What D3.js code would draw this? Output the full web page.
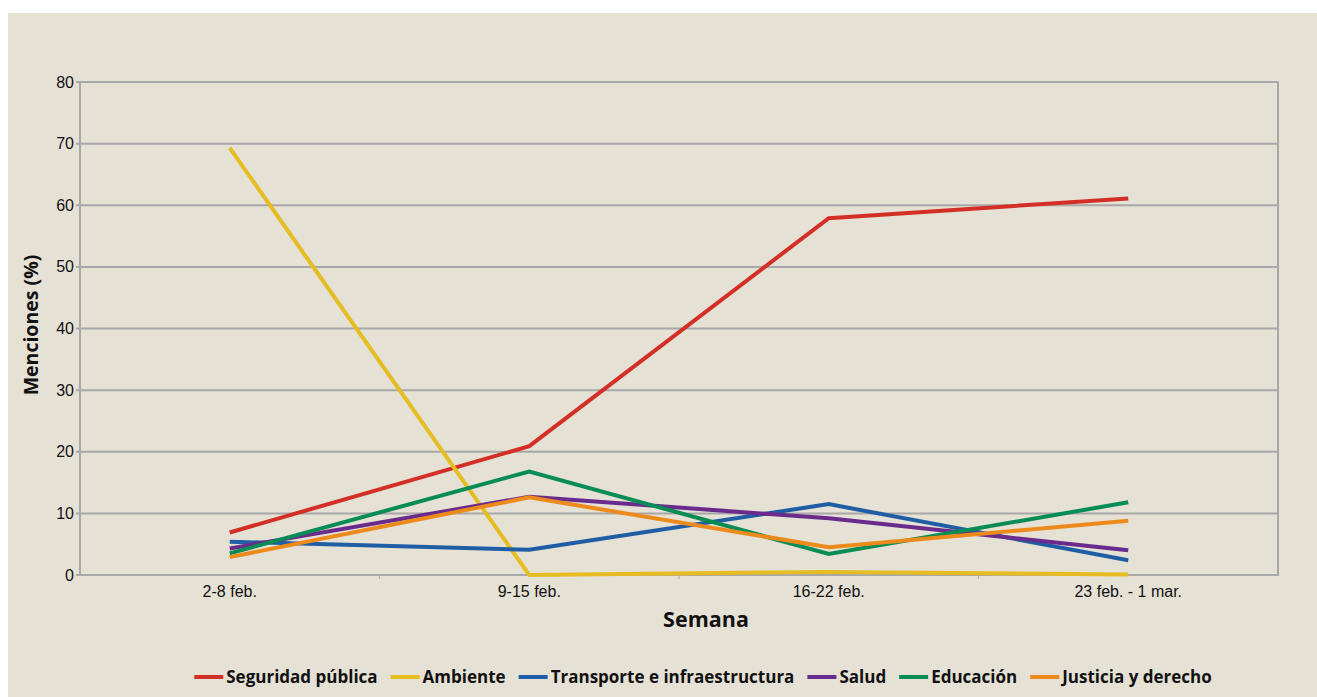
<!DOCTYPE html>
<html>
<head>
<meta charset="utf-8">
<script src="https://cdn.jsdelivr.net/npm/d3@7"></script>
<style>
  body { margin: 0; background: #fff; }
  svg text { fill: #111; }
</style>
</head>
<body>
<div id="chart"></div>
<script>
/* DATA */
const weeks = ["2-8 feb.", "9-15 feb.", "16-22 feb.", "23 feb. - 1 mar."];
const seguridad = [6.9, 20.9, 57.9, 61.1];
const ambiente = [69.3, 0, 0.5, 0.1];
const transporte = [5.4, 4.1, 11.5, 2.4];
const salud = [4.3, 12.7, 9.2, 4.0];
const educacion = [3.5, 16.8, 3.4, 11.8];
const justicia = [2.9, 12.6, 4.5, 8.8];
const seriesNames = ["Seguridad pública", "Ambiente", "Transporte e infraestructura", "Salud", "Educación", "Justicia y derecho"];
const seriesColors = ["#d42f27", "#e5bd23", "#1f5ea4", "#692b8c", "#088c55", "#ec8a1c"];
const yTicks = [0, 10, 20, 30, 40, 50, 60, 70, 80];

const series = [seguridad, ambiente, transporte, salud, educacion, justicia]
  .map((values, i) => ({ name: seriesNames[i], color: seriesColors[i], values }));

/* LAYOUT */
const width = 1317, height = 697;
const margin = { top: 82, right: 39, bottom: 122, left: 80 };

const svg = d3.select("#chart").append("svg")
  .attr("width", width)
  .attr("height", height);

// beige panel
svg.append("rect")
  .attr("x", 8).attr("y", 13)
  .attr("width", width - 8).attr("height", height - 13)
  .attr("fill", "#e6e1d5");

const xScale = d3.scaleBand()
  .domain(weeks)
  .range([margin.left, width - margin.right]);

const yScale = d3.scaleLinear()
  .domain([0, 80])
  .range([height - margin.bottom, margin.top]);

const grid = "#a8a8a8";

// gridlines
svg.append("g")
  .selectAll("line")
  .data(yTicks)
  .join("line")
  .attr("x1", margin.left - 4)
  .attr("x2", width - margin.right)
  .attr("y1", d => yScale(d))
  .attr("y2", d => yScale(d))
  .attr("stroke", grid)
  .attr("stroke-width", 2);

// left and right frame lines
svg.append("line")
  .attr("x1", margin.left).attr("x2", margin.left)
  .attr("y1", yScale(80) - 1).attr("y2", yScale(0) + 1)
  .attr("stroke", grid).attr("stroke-width", 2);
svg.append("line")
  .attr("x1", width - margin.right).attr("x2", width - margin.right)
  .attr("y1", yScale(80) - 1).attr("y2", yScale(0) + 1)
  .attr("stroke", grid).attr("stroke-width", 2);

// x ticks between categories
svg.append("g")
  .selectAll("line")
  .data(weeks.slice(1))
  .join("line")
  .attr("x1", d => xScale(d))
  .attr("x2", d => xScale(d))
  .attr("y1", yScale(0))
  .attr("y2", yScale(0) + 4)
  .attr("stroke", grid)
  .attr("stroke-width", 1);

// y tick labels
svg.append("g")
  .selectAll("text")
  .data(yTicks)
  .join("text")
  .attr("x", margin.left - 6)
  .attr("y", d => yScale(d))
  .attr("dy", "0.35em")
  .attr("text-anchor", "end")
  .style("font", "16px 'Liberation Sans', Arial, sans-serif")
  .text(d => d);

// x tick labels
svg.append("g")
  .selectAll("text")
  .data(weeks)
  .join("text")
  .attr("x", d => xScale(d) + xScale.bandwidth() / 2)
  .attr("y", yScale(0) + 22)
  .attr("text-anchor", "middle")
  .style("font", "16px 'Liberation Sans', Arial, sans-serif")
  .text(d => d);

// axis titles
svg.append("text")
  .attr("transform", `translate(38, 325) rotate(-90)`)
  .attr("text-anchor", "middle")
  .style("font", "bold 19.5px 'Open Sans', sans-serif")
  .text("Menciones (%)");

svg.append("text")
  .attr("x", 706)
  .attr("y", 627)
  .attr("text-anchor", "middle")
  .style("font", "bold 21.5px 'Open Sans', sans-serif")
  .text("Semana");

// lines
const line = d3.line()
  .x((d, i) => xScale(weeks[i]) + xScale.bandwidth() / 2)
  .y(d => yScale(d));

svg.append("g")
  .selectAll("path")
  .data(series)
  .join("path")
  .attr("d", d => line(d.values))
  .attr("fill", "none")
  .attr("stroke", d => d.color)
  .attr("stroke-width", 4)
  .attr("stroke-linejoin", "miter");

// legend
const legend = svg.append("g");
const swatch = 29, gapText = 3, gapItem = 13;
let cx = 0;
series.forEach(s => {
  const item = legend.append("g").attr("transform", `translate(${cx},0)`);
  item.append("line")
    .attr("x1", 0).attr("x2", swatch)
    .attr("y1", 0).attr("y2", 0)
    .attr("stroke", s.color).attr("stroke-width", 4);
  const t = item.append("text")
    .attr("x", swatch + gapText)
    .attr("dy", "0.35em")
    .style("font", "bold 17px 'Open Sans', sans-serif")
    .text(s.name);
  cx += swatch + gapText + t.node().getComputedTextLength() + gapItem;
});
const legendWidth = cx - gapItem;
legend.attr("transform", `translate(${703 - legendWidth / 2}, 677)`);
</script>
</body>
</html>
